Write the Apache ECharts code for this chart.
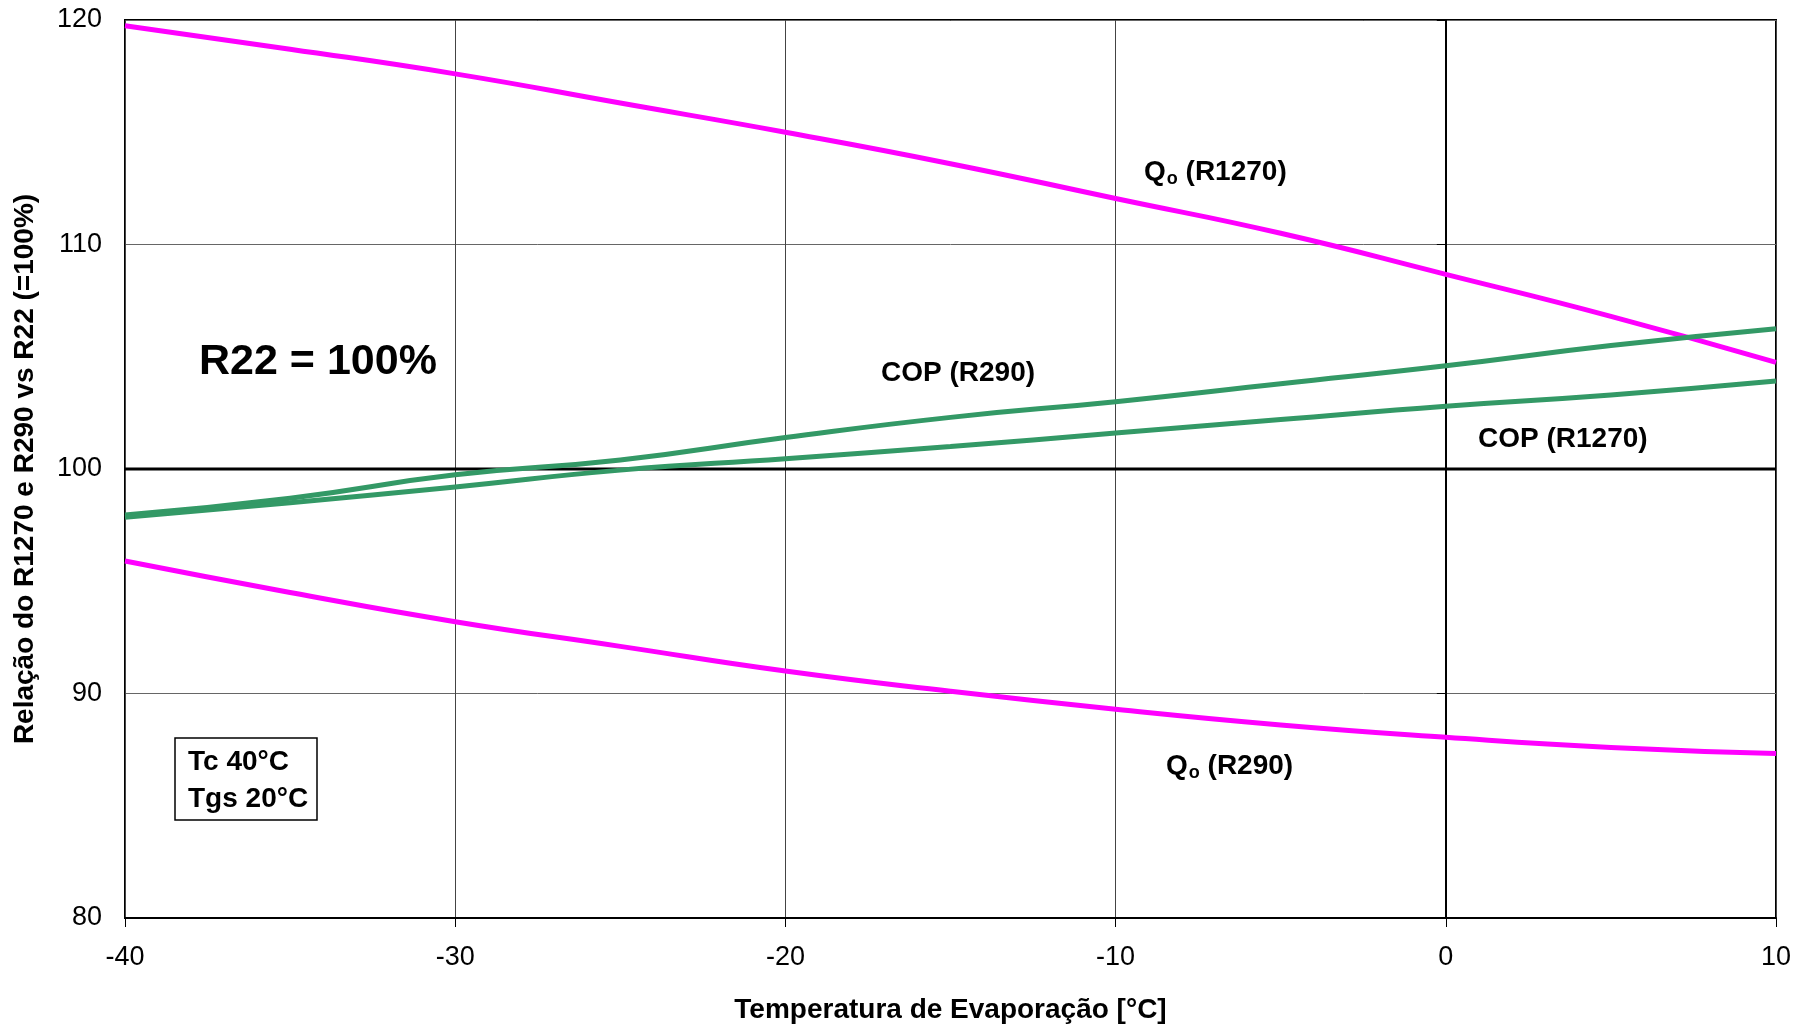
<!DOCTYPE html>
<html>
<head>
<meta charset="utf-8">
<script src="https://cdn.jsdelivr.net/npm/echarts@6/dist/echarts.min.js"></script>
<style>
html,body{margin:0;padding:0;background:#fff;}
#chart{width:1805px;height:1026px;}
</style>
</head>
<body>
<div id="chart"></div>
<script>
var temps = [-40, -35, -30, -25, -20, -15, -10, -5, 0, 5, 10];
var qoR1270 = [119.74, 118.7, 117.6, 116.3, 115.0, 113.6, 112.05, 110.5, 108.67, 106.8, 104.75];
var qoR290 = [95.9, 94.5, 93.2, 92.1, 91.0, 90.1, 89.3, 88.6, 88.05, 87.6, 87.33];
var copR290 = [97.95, 98.7, 99.74, 100.4, 101.4, 102.3, 103.0, 103.8, 104.6, 105.5, 106.25];
var copR1270 = [97.85, 98.5, 99.2, 99.95, 100.46, 101.0, 101.6, 102.2, 102.8, 103.3, 103.92];
var baseR22 = [100, 100];
var baseTemps = [-40, 10];
var xTicks = [-40, -30, -20, -10, 0, 10];
var yTicks = [80, 90, 100, 110, 120];

function pairs(xs, ys) { return xs.map(function (x, i) { return [x, ys[i]]; }); }

var FONT = 'Liberation Sans, Arial, sans-serif';
var chart = echarts.init(document.getElementById('chart'));
var LW = 5;

chart.setOption({
  backgroundColor: '#fff',
  animation: false,
  textStyle: { fontFamily: FONT },
  grid: { left: 125, right: 29, top: 20, bottom: 108, show: true, borderColor: '#000', borderWidth: 2,
          containLabel: false, outerBoundsMode: 'none' },
  xAxis: {
    type: 'value', min: xTicks[0], max: xTicks[xTicks.length - 1], interval: 10,
    name: 'Temperatura de Evaporação [°C]', nameLocation: 'middle', nameGap: 78,
    nameTextStyle: { fontFamily: FONT, fontWeight: 'bold', fontSize: 28, color: '#000' },
    axisLine: { show: true, lineStyle: { color: '#000', width: 2 } },
    axisTick: { show: true, length: 9, lineStyle: { color: '#000', width: 1 } },
    axisLabel: { fontFamily: FONT, fontSize: 27, color: '#000', margin: 26 },
    splitLine: { show: true, lineStyle: { color: '#444', width: 1 } }
  },
  yAxis: {
    type: 'value', min: yTicks[0], max: yTicks[yTicks.length - 1], interval: 10,
    name: 'Relação do R1270 e R290 vs R22 (=100%)', nameLocation: 'middle', nameGap: 86,
    nameTextStyle: { fontFamily: FONT, fontWeight: 'bold', fontSize: 28, color: '#000' },
    axisLine: { show: true, lineStyle: { color: '#000', width: 2 } },
    axisTick: { show: true, length: 9, lineStyle: { color: '#000', width: 1 } },
    axisLabel: { fontFamily: FONT, fontSize: 27, color: '#000', margin: 23 },
    splitLine: { show: true, lineStyle: { color: '#666', width: 1 } }
  },
  series: [
    { type: 'line', name: 'R22', data: pairs(baseTemps, baseR22), symbol: 'none', silent: true,
      lineStyle: { color: '#000', width: 3 }, z: 3 },
    { type: 'line', name: 'Qo (R1270)', data: pairs(temps, qoR1270), symbol: 'none', smooth: true,
      lineStyle: { color: '#FF00FF', width: LW }, z: 4 },
    { type: 'line', name: 'Qo (R290)', data: pairs(temps, qoR290), symbol: 'none', smooth: true,
      lineStyle: { color: '#FF00FF', width: LW }, z: 4 },
    { type: 'line', name: 'COP (R290)', data: pairs(temps, copR290), symbol: 'none', smooth: true,
      lineStyle: { color: '#339966', width: LW }, z: 5 },
    { type: 'line', name: 'COP (R1270)', data: pairs(temps, copR1270), symbol: 'none', smooth: true,
      lineStyle: { color: '#339966', width: LW }, z: 5 }
  ],
  graphic: [
    { type: 'text', left: 199, top: 341, style: { text: 'R22 = 100%', font: 'bold 43px ' + FONT, fill: '#000' } },
    { type: 'text', left: 1144, top: 158, style: {
        text: '{m|Q}{s|o}{m| (R1270)}',
        rich: { m: { fontFamily: FONT, fontWeight: 'bold', fontSize: 28, color: '#000' },
                s: { fontFamily: FONT, fontWeight: 'bold', fontSize: 18, color: '#000', padding: [15, 0, 0, 1] } } } },
    { type: 'text', left: 1166, top: 752, style: {
        text: '{m|Q}{s|o}{m| (R290)}',
        rich: { m: { fontFamily: FONT, fontWeight: 'bold', fontSize: 28, color: '#000' },
                s: { fontFamily: FONT, fontWeight: 'bold', fontSize: 18, color: '#000', padding: [15, 0, 0, 1] } } } },
    { type: 'text', left: 881, top: 359, style: { text: 'COP (R290)', font: 'bold 28px ' + FONT, fill: '#000' } },
    { type: 'text', left: 1478, top: 425, style: { text: 'COP (R1270)', font: 'bold 28px ' + FONT, fill: '#000' } },
    { type: 'rect', shape: { x: 175, y: 738, width: 142, height: 82 }, style: { fill: '#fff', stroke: '#000', lineWidth: 1.5 }, z: 10 },
    { type: 'text', left: 188, top: 748, style: { text: 'Tc 40°C', font: 'bold 28px ' + FONT, fill: '#000' }, z: 11 },
    { type: 'text', left: 188, top: 785, style: { text: 'Tgs 20°C', font: 'bold 28px ' + FONT, fill: '#000' }, z: 11 }
  ]
});
</script>
</body>
</html>
